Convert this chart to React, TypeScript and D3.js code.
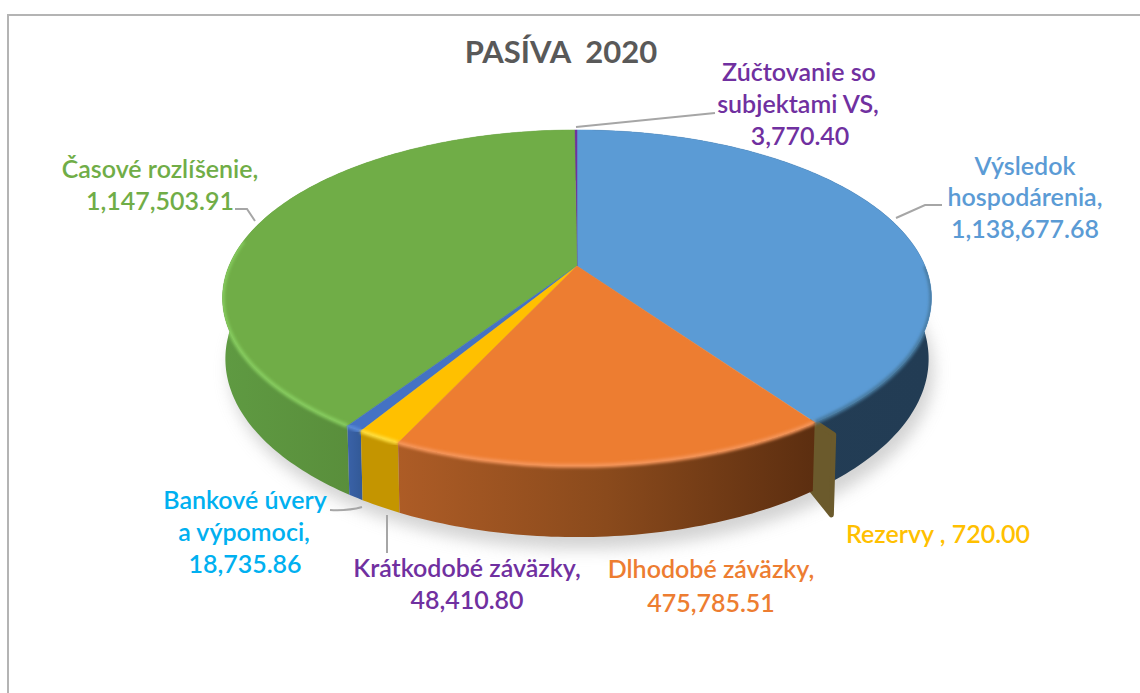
import React from "react";
import * as d3 from "d3";

const categories = ["Výsledok hospodárenia", "Rezervy", "Dlhodobé záväzky", "Krátkodobé záväzky", "Bankové úvery a výpomoci", "Časové rozlíšenie", "Zúčtovanie so subjektami VS"];
const values = [1138677.68, 720, 475785.51, 48410.8, 18735.86, 1147503.91, 3770.4];
const topColors = ["#5b9bd5", "#a5a5a5", "#ed7d31", "#ffc000", "#4472c4", "#70ad47", "#7030a0"];
const rimStops = [
  ["#223c54", "#233d55", "#2a4a68"],
  ["#6b5a2c", "#6b5a2c"],
  ["#ad5c26", "#8a4a1c", "#5c2e10"],
  ["#c49500", "#c49500"],
  ["#335a98", "#3a62a8"],
  ["#5c9040", "#578a39", "#5f9a42"],
  ["#5a2680", "#5a2680"],
];
const glowColors = ["#47799f", null, "#f5955a", "#ffdf40", "#5a8ad8", "#86cc5e", null];

const labels = [
  { color: "#7030a0", lines: [["Zúčtovanie so", 799, 81], ["subjektami VS,", 798, 113], ["3,770.40", 800, 145]] },
  { color: "#5b9bd5", lines: [["Výsledok", 1025, 175], ["hospodárenia,", 1025, 206], ["1,138,677.68", 1025, 238]] },
  { color: "#70ad47", lines: [["Časové rozlíšenie,", 160, 178], ["1,147,503.91", 160, 210]] },
  { color: "#00b0f0", lines: [["Bankové úvery", 245, 509], ["a výpomoci,", 244, 541], ["18,735.86", 245, 573]] },
  { color: "#7030a0", lines: [["Krátkodobé záväzky,", 467, 577], ["48,410.80", 467, 609]] },
  { color: "#ed7d31", lines: [["Dlhodobé záväzky,", 711, 578], ["475,785.51", 711, 612]] },
  { color: "#ffc000", lines: [["Rezervy , 720.00", 938, 543]] },
];
const leaders = [
  "M576,127 L715,113",
  "M235,209 L247,209 L255,221",
  "M896,218 L925,205 L942,205",
  "M362,507 Q348,511 330,510",
  "M387,515 L387,553",
];

const CX = 577, CY = 266, A = 348, B = 161.9, P = 0.19, H = 59;

// flat disc seen in perspective, angle 0 at the top and running clockwise
const project = (angle: number, r = 1, depth = 0): [number, number] => {
  const X = r * Math.sin(angle), Y = r * Math.cos(angle);
  const w = 1 + P * Y;
  const s = 1 - depth * 0.008;
  return [CX + (A * X * s) / w, CY - (B * Y * s) / w + (H * depth) / w];
};
const arcPoints = (a0: number, a1: number, depth = 0, r = 1) => {
  const n = Math.max(2, Math.ceil(Math.abs(a1 - a0) * 60));
  return d3.range(n + 1).map((i) => project(a0 + ((a1 - a0) * i) / n, r, depth));
};
const line = d3.line();

export default function App() {
  const arcs = d3.pie<number>().sort(null).value((d) => d)(values);
  const tau = Math.PI * 2;
  const drawOrder = [0, 6, 5, 4, 3, 2];
  const wallArc = arcs[1];

  const rimPath = (a0: number, a1: number) =>
    line([...arcPoints(a0, a1, 0), ...arcPoints(a1, a0, 1)]) + "Z";
  const topPath = (a0: number, a1: number) =>
    line([[CX, CY], ...arcPoints(a0, a1, 0)]) + "Z";
  // the tiny Rezervy slice only shows as its cut wall sticking out past the rim
  const wall = line([
    project(wallArc.startAngle, 0.99, 0),
    project(wallArc.startAngle, 1.065, 0),
    project(wallArc.startAngle, 1.065, 1.16),
    project(wallArc.startAngle, 0.99, 1),
  ]) + "Z";

  return (
    <svg width={1140} height={693} style={{ position: "absolute", left: 0, top: 0, background: "#fff" }} fontFamily="Lato, Carlito, sans-serif">
      <defs>
        <filter id="shadow" x="-20%" y="-20%" width="140%" height="140%"><feGaussianBlur stdDeviation="8" /></filter>
        <filter id="soft" x="-10%" y="-10%" width="120%" height="120%"><feGaussianBlur stdDeviation="1.5" /></filter>
        <clipPath id="pieBody">
          <path d={line(arcPoints(0, tau, 0)) + "Z"} />
          <path d={rimPath(Math.PI * 0.4, Math.PI * 1.6)} />
        </clipPath>
        {arcs.map((a, i) => {
          const xs = arcPoints(a.startAngle, a.endAngle, 0).map((p) => p[0]);
          const stops = rimStops[i];
          // stops run left to right across the slice's visible rim
          const ordered = i === 2 ? stops : stops.slice().reverse();
          return (
            <linearGradient key={i} id={"rim" + i} gradientUnits="userSpaceOnUse" x1={d3.min(xs)} x2={d3.max(xs)} y1={0} y2={0}>
              {ordered.map((c, j) => (
                <stop key={j} offset={j / (ordered.length - 1)} stopColor={c} />
              ))}
            </linearGradient>
          );
        })}
      </defs>

      <path d="M8,693 L8,15 L1140,15" fill="none" stroke="#b4b4b4" strokeWidth={2} />

      <path d={line(arcPoints(0, tau, 1)) + "Z"} transform="translate(5,12)" fill="#b5b5b5" opacity={0.6} filter="url(#shadow)" />

      <g>
        {drawOrder.map((i) => (
          <React.Fragment key={i}>
            {i === 2 && <path d={wall} fill="#6b5a2c" stroke="#6b5a2c" strokeWidth={5} strokeLinejoin="round" />}
            <path d={rimPath(arcs[i].startAngle, arcs[i].endAngle)} fill={`url(#rim${i})`} />
          </React.Fragment>
        ))}
        {drawOrder.map((i) => (
          <path key={i} d={topPath(arcs[i].startAngle, arcs[i].endAngle)} fill={topColors[i]} stroke={topColors[i]} strokeWidth={0.5} />
        ))}
      </g>

      <g clipPath="url(#pieBody)">
        {drawOrder.map((i) => {
          const a0 = Math.max(arcs[i].startAngle, Math.PI * 0.5);
          const a1 = Math.min(arcs[i].endAngle, Math.PI * 1.55);
          if (a1 <= a0 || !glowColors[i]) return null;
          return (
            <path key={i} d={line(arcPoints(a0, a1, 0)) as string} fill="none" stroke={glowColors[i] as string} strokeWidth={4} filter="url(#soft)" />
          );
        })}
      </g>

      {leaders.map((d, i) => (
        <path key={i} d={d} fill="none" stroke="#a6a6a6" strokeWidth={2} />
      ))}

      <text x={561} y={63} textAnchor="middle" fontSize={31} fontWeight={700} fill="#595959" style={{ whiteSpace: "pre" }}>PASÍVA  2020</text>

      {labels.map((l, i) => (
        <g key={categories[i]} fill={l.color} fontSize={25} fontWeight={600} textAnchor="middle">
          {l.lines.map(([t, x, y]) => (
            <text key={t as string} x={x as number} y={y as number}>{t}</text>
          ))}
        </g>
      ))}
    </svg>
  );
}
